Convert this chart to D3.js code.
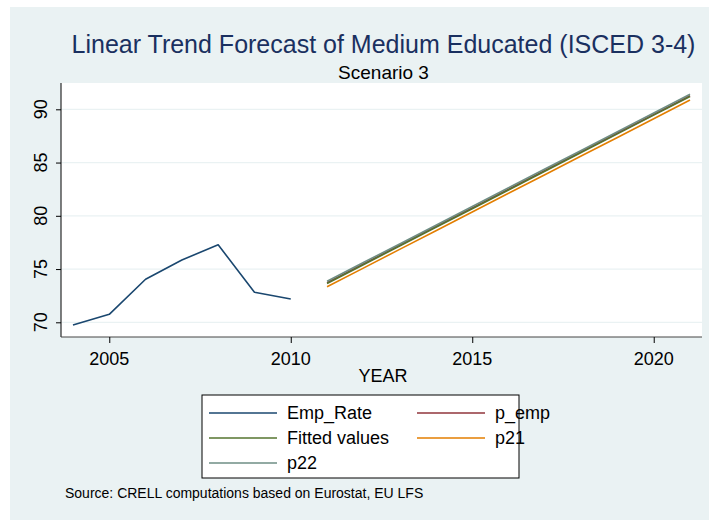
<!DOCTYPE html>
<html>
<head>
<meta charset="utf-8">
<script src="https://cdn.jsdelivr.net/npm/d3@7"></script>
<style>
  body { margin: 0; background: #fff; }
  text { font-family: "Liberation Sans", Arial, sans-serif; }
</style>
</head>
<body>
<div id="chart"></div>
<script>
// observed employment rate, 2004-2010
const obsYears = [2004, 2005, 2006, 2007, 2008, 2009, 2010];
const empRate = [69.75, 70.75, 74.04, 75.85, 77.28, 72.82, 72.19];

// forecast years and the four trend series
const fcYears = [2011, 2012, 2013, 2014, 2015, 2016, 2017, 2018, 2019, 2020, 2021];
const pEmp   = [73.72, 75.48, 77.23, 78.99, 80.74, 82.50, 84.25, 86.01, 87.77, 89.52, 91.28];
const fitted = [73.65, 75.41, 77.16, 78.92, 80.67, 82.43, 84.18, 85.94, 87.69, 89.45, 91.20];
const p21    = [73.34, 75.09, 76.85, 78.60, 80.35, 82.11, 83.86, 85.61, 87.36, 89.12, 90.87];
const p22    = [73.85, 75.61, 77.36, 79.12, 80.87, 82.63, 84.39, 86.14, 87.90, 89.65, 91.41];

const xTicks = [2005, 2010, 2015, 2020];
const yTicks = [70, 75, 80, 85, 90];

const seriesNames = ["Emp_Rate", "p_emp", "Fitted values", "p21", "p22"];
const seriesColors = ["#1a476f", "#90353b", "#55752f", "#e37e00", "#6e8e84"];

const W = 709, H = 520;
const plot = {left: 61, right: 702, top: 83, bottom: 337};

const svg = d3.select("#chart").append("svg")
  .attr("width", W).attr("height", H);

// graph region background
svg.append("rect")
  .attr("x", 10).attr("y", 7)
  .attr("width", W - 10).attr("height", H - 7)
  .attr("fill", "#eaf2f3");

// plot region
svg.append("rect")
  .attr("x", plot.left).attr("y", plot.top)
  .attr("width", plot.right - plot.left).attr("height", plot.bottom - plot.top)
  .attr("fill", "#fff");

const x = d3.scaleLinear().domain([2003.67, 2021.33]).range([plot.left, plot.right]);
const y = d3.scaleLinear().domain([68.62, 92.47]).range([plot.bottom, plot.top]);

// grid lines
svg.append("g")
  .selectAll("line")
  .data(yTicks)
  .join("line")
    .attr("x1", plot.left).attr("x2", plot.right)
    .attr("y1", d => y(d)).attr("y2", d => y(d))
    .attr("stroke", "#eaf2f3")
    .attr("stroke-width", 1.2);

// axes
const yAxis = svg.append("g")
  .attr("transform", `translate(${plot.left},0)`)
  .call(d3.axisLeft(y).tickValues(yTicks).tickSize(5).tickFormat(""));
const xAxis = svg.append("g")
  .attr("transform", `translate(0,${plot.bottom})`)
  .call(d3.axisBottom(x).tickValues(xTicks).tickSize(6).tickFormat(""));
yAxis.select(".domain").attr("d", `M0,${plot.top}V${plot.bottom}`).attr("stroke", "#000");
xAxis.select(".domain").attr("d", `M${plot.left},0H${plot.right}`).attr("stroke", "#444");
yAxis.selectAll(".tick line").attr("stroke", "#000");
xAxis.selectAll(".tick line").attr("stroke", "#000");

// y tick labels (rotated)
svg.append("g")
  .selectAll("text")
  .data(yTicks)
  .join("text")
    .attr("transform", d => `translate(47,${y(d)}) rotate(-90)`)
    .attr("text-anchor", "middle")
    .attr("font-size", 18)
    .attr("fill", "#000")
    .text(d => d);

// x tick labels
svg.append("g")
  .selectAll("text")
  .data(xTicks)
  .join("text")
    .attr("x", d => x(d)).attr("y", 365)
    .attr("text-anchor", "middle")
    .attr("font-size", 18)
    .attr("fill", "#000")
    .text(d => d);

svg.append("text")
  .attr("x", 383).attr("y", 382)
  .attr("text-anchor", "middle")
  .attr("font-size", 18)
  .text("YEAR");

// lines
const line = d3.line().x(d => x(d[0])).y(d => y(d[1]));
const series = [
  {years: obsYears, values: empRate},
  {years: fcYears, values: pEmp},
  {years: fcYears, values: fitted},
  {years: fcYears, values: p21},
  {years: fcYears, values: p22}
];
svg.append("g")
  .selectAll("path")
  .data(series)
  .join("path")
    .attr("d", d => line(d.years.map((yr, i) => [yr, d.values[i]])))
    .attr("fill", "none")
    .attr("stroke", (d, i) => seriesColors[i])
    .attr("stroke-width", 1.6)
    .attr("stroke-linejoin", "round");

// titles
svg.append("text")
  .attr("x", 383.5).attr("y", 53)
  .attr("text-anchor", "middle")
  .attr("font-size", 25)
  .attr("fill", "#1a3060")
  .text("Linear Trend Forecast of Medium Educated (ISCED 3-4)");
svg.append("text")
  .attr("x", 383.5).attr("y", 79)
  .attr("text-anchor", "middle")
  .attr("font-size", 19)
  .attr("fill", "#000")
  .text("Scenario 3");

// legend
const legend = svg.append("g");
legend.append("rect")
  .attr("x", 202).attr("y", 395)
  .attr("width", 317).attr("height", 83)
  .attr("fill", "#fff")
  .attr("stroke", "#000")
  .attr("stroke-width", 1);
const legendPos = [[0, 0], [1, 0], [0, 1], [1, 1], [0, 2]];
const legendOrder = [0, 1, 2, 3, 4];
const items = legend.selectAll("g.item")
  .data(legendOrder)
  .join("g")
    .attr("class", "item")
    .attr("transform", (d, i) => `translate(${209 + legendPos[i][0] * 208},${413 + legendPos[i][1] * 25})`);
items.append("line")
  .attr("x1", 0).attr("x2", 68)
  .attr("stroke", d => seriesColors[d])
  .attr("stroke-width", 1.6);
items.append("text")
  .attr("x", 78).attr("y", 6)
  .attr("font-size", 18)
  .text(d => seriesNames[d]);

svg.append("text")
  .attr("x", 65).attr("y", 498)
  .attr("font-size", 14)
  .text("Source: CRELL computations based on Eurostat, EU LFS");
</script>
</body>
</html>
